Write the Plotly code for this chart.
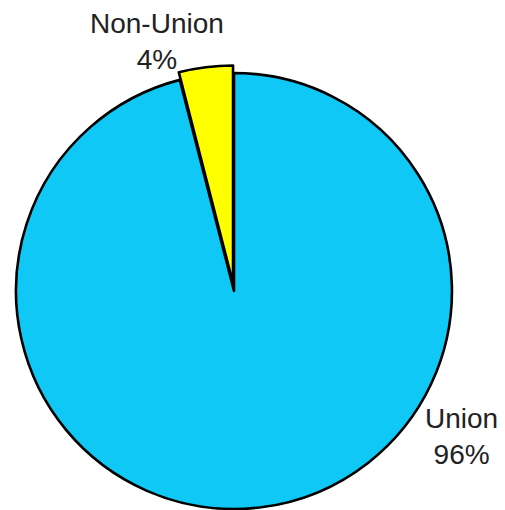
import plotly.graph_objects as go

labels = ["Union", "Non-Union"]
values = [96, 4]
colors = ["#10c8f5", "#ffff00"]
pulls = [0, 0.035]

# label positions (paper coords)
label_x = [0.912, 0.2988]
label_y = [0.163, 0.9355]

W, H = 497, 512  # page body has an 8px margin

fig = go.Figure()
fig.add_trace(go.Pie(
    labels=labels,
    values=values,
    sort=False,
    direction="clockwise",
    rotation=0,
    pull=pulls,
    marker=dict(colors=colors, line=dict(color="black", width=2.6)),
    textinfo="none",
    hoverinfo="label+percent",
    showlegend=False,
    domain=dict(x=[0.4 / W, 451.6 / W], y=[3.4 / H, 454.6 / H]),
))

for lab, val, ax, ay in zip(labels, values, label_x, label_y):
    fig.add_annotation(
        x=ax, y=ay, xref="paper", yref="paper",
        text=f"{lab}<br>{val}%",
        showarrow=False,
        font=dict(family="Liberation Sans, Arial", size=28, color="#222222"),
        xanchor="center", yanchor="middle",
    )

fig.update_layout(
    width=W, height=H,
    margin=dict(l=0, r=0, t=0, b=0),
    paper_bgcolor="white",
    plot_bgcolor="white",
)

fig.write_html("out.html")
